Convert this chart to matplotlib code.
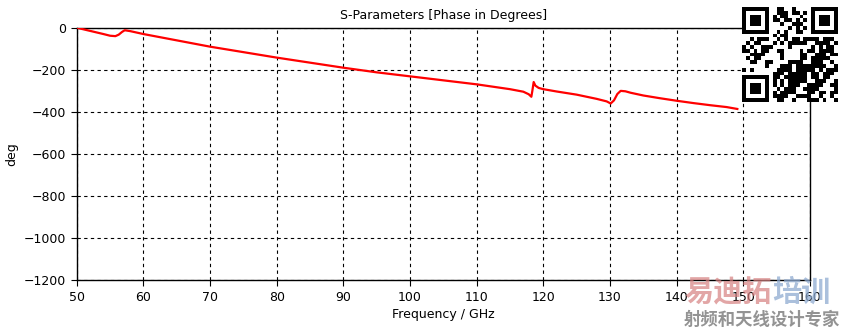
import numpy as np
import matplotlib
matplotlib.use('Agg')
import matplotlib.pyplot as plt

# S11 phase (GHz, degrees)
freq = [50, 52, 54, 55, 55.8, 56.3, 56.8, 57.2, 58, 60, 65, 70, 75, 80, 85,
        90, 95, 100, 105, 110, 115, 117, 117.8, 118.2, 118.35, 118.55, 118.8,
        119.3, 120, 122, 125, 128, 129.5, 130.1, 130.6, 131.1, 131.6, 132.3,
        133.1, 135, 137.5, 140, 142.5, 145, 147.5, 149.1]
phase = [0, -15, -30, -38, -40, -33, -20, -12, -16, -30, -60, -90, -116, -142,
         -166, -190, -212, -231, -250, -269, -292, -304, -316, -328, -300,
         -258, -275, -286, -292, -303, -318, -338, -350, -360, -345, -315,
         -300, -302, -309, -322, -335, -347, -358, -368, -377, -386]

xticks = [50, 60, 70, 80, 90, 100, 110, 120, 130, 140, 150, 160]
yticks = [0, -200, -400, -600, -800, -1000, -1200]

plt.rcParams['font.family'] = ['DejaVu Sans']
fig = plt.figure(figsize=(8.44, 3.34), dpi=100)
ax = fig.add_axes([0.0909, 0.1608, 0.9597 - 0.0909, 0.917 - 0.1608])

ax.plot(freq, phase, color='#ff0000', linewidth=1.6, zorder=3)

ax.set_xlim(50, 160)
ax.set_ylim(-1200, 0)
ax.set_xticks(xticks)
ax.set_yticks(yticks)
ax.tick_params(direction='out', length=4, width=0.8, labelsize=9, colors='black')
ax.grid(True, color='black', linestyle=(0, (3, 3)), linewidth=0.8)
for s in ax.spines.values():
    s.set_linewidth(1.0)

ax.set_title('S-Parameters [Phase in Degrees]', fontsize=9, pad=6)
ax.set_xlabel('Frequency / GHz', fontsize=9, labelpad=3)
ax.set_ylabel('deg', fontsize=9, labelpad=4)

# QR-style badge in the top right corner
n = 25
seed = 'S-Parameters [Phase in Degrees] 易迪拓培训 射频和天线设计专家'.encode('utf-8')
bits = np.unpackbits(np.frombuffer((seed * 20)[:80], dtype=np.uint8))
mods = bits[:n * n].reshape(n, n).copy()
mods ^= (np.add.outer(np.arange(n), np.arange(n)) % 3 == 0).astype(np.uint8)
for r0, c0 in [(0, 0), (0, n - 7), (n - 7, 0)]:
    mods[max(r0 - 1, 0):r0 + 8, max(c0 - 1, 0):c0 + 8] = 0
    mods[r0:r0 + 7, c0:c0 + 7] = 1
    mods[r0 + 1:r0 + 6, c0 + 1:c0 + 6] = 0
    mods[r0 + 2:r0 + 5, c0 + 2:c0 + 5] = 1
qax = fig.add_axes([741 / 844, 1 - 102 / 334, 97 / 844, 95 / 334])
qax.imshow(1 - mods, cmap='gray', interpolation='nearest', vmin=0, vmax=1)
qax.set_axis_off()

# training-site watermark
cjk = ['Noto Sans CJK SC', 'DejaVu Sans']
fig.text(684 / 844, 1 - 292 / 334, '易迪拓', fontsize=21, fontweight='black',
         color=(0.84, 0.5, 0.5), alpha=0.7, family=cjk, va='center', ha='left')
fig.text(772 / 844, 1 - 292 / 334, '培训', fontsize=21, fontweight='black',
         color=(0.56, 0.67, 0.82), alpha=0.75, family=cjk, va='center', ha='left')
fig.text(684 / 844, 1 - 320 / 334, '射频和天线设计专家', fontsize=12.5, fontweight='bold',
         color=(0.5, 0.5, 0.5), alpha=0.85, family=cjk, va='center', ha='left')

fig.savefig('out.png', dpi=100)
